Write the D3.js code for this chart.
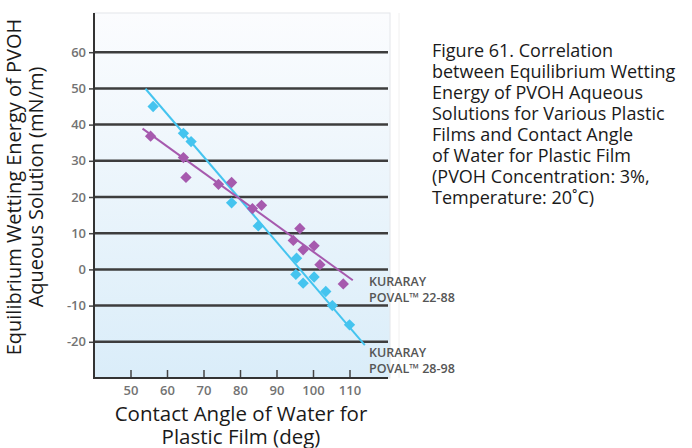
<!DOCTYPE html>
<html>
<head>
<meta charset="utf-8">
<script src="https://cdn.jsdelivr.net/npm/d3@7"></script>
<style>
  html, body { margin: 0; padding: 0; background: #fff; }
  svg { display: block; }
  text { font-family: "Open Sans", "DejaVu Sans", sans-serif; }
</style>
</head>
<body>
<svg id="chart" width="692" height="448"></svg>
<script>
// Contact angle of water (deg) vs. equilibrium wetting energy (mN/m)
const xTicks = [50, 60, 70, 80, 90, 100, 110];
const yTicks = [60, 50, 40, 30, 20, 10, 0, -10, -20];

// KURARAY POVAL 28-98
const angle2898 = [56.2, 64.5, 66.6, 77.7, 85.0, 95.5, 95.3, 97.3, 100.3, 103.5, 105.3, 110.0];
const energy2898 = [45.0, 37.6, 35.3, 18.4, 12.0, 3.1, -1.4, -3.8, -2.1, -6.1, -10.0, -15.3];
// fitted line end points (angle, energy)
const fitAngle2898 = [54.1, 114.2];
const fitEnergy2898 = [49.9, -20.9];

// KURARAY POVAL 22-88
const angle2288 = [55.5, 64.5, 65.2, 74.1, 77.7, 83.4, 85.9, 96.4, 94.6, 97.3, 100.3, 101.9, 108.3];
const energy2288 = [36.8, 30.9, 25.4, 23.5, 24.0, 16.8, 17.7, 11.3, 8.0, 5.4, 6.5, 1.3, -4.0];
const fitAngle2288 = [53.3, 110.9];
const fitEnergy2288 = [38.9, -3.0];

const seriesNames = [["KURARAY", "POVAL\u2122 22-88"], ["KURARAY", "POVAL\u2122 28-98"]];
const yTitle = ["Equilibrium Wetting Energy of PVOH", "Aqueous Solution (mN/m)"];
const xTitle = ["Contact Angle of Water for", "Plastic Film (deg)"];
const caption = [
  "Figure 61. Correlation",
  "between Equilibrium Wetting",
  "Energy of PVOH Aqueous",
  "Solutions for Various Plastic",
  "Films and Contact Angle",
  "of Water for Plastic Film",
  "(PVOH Concentration: 3%,",
  "Temperature: 20\u02DAC)"
];

const svg = d3.select("#chart");
const plotL = 94, plotR = 388, plotT = 13, plotB = 378;

const x = d3.scaleLinear().domain([40, 120]).range([94, 386]);
const y = d3.scaleLinear().domain([-30, 70]).range([plotB, 16]);

// plot background with a soft vertical gradient
const defs = svg.append("defs");
const grad = defs.append("linearGradient").attr("id", "bg").attr("x1", 0).attr("y1", 0).attr("x2", 0).attr("y2", 1);
grad.append("stop").attr("offset", "0%").attr("stop-color", "#fbfcfe");
grad.append("stop").attr("offset", "100%").attr("stop-color", "#daedf9");

svg.append("rect")
  .attr("x", plotL).attr("y", plotT)
  .attr("width", plotR - plotL + 2).attr("height", plotB - plotT)
  .attr("fill", "url(#bg)")
  .attr("stroke", "#e4e6ea").attr("stroke-width", 1);

// faint separator line right of the plot
svg.append("line")
  .attr("x1", 399).attr("x2", 399).attr("y1", plotT).attr("y2", plotB)
  .attr("stroke", "#f0f0f0").attr("stroke-width", 1);

// horizontal grid lines
svg.append("g").selectAll("line").data(yTicks).join("line")
  .attr("x1", plotL).attr("x2", plotR)
  .attr("y1", d => y(d)).attr("y2", d => y(d))
  .attr("stroke", "#3d3d3d").attr("stroke-width", 2.5);

// y axis (outer ticks, grey labels, plain hyphen for negatives)
const yAxis = svg.append("g")
  .attr("transform", `translate(${plotL},0)`)
  .call(d3.axisLeft(y).tickValues(yTicks).tickFormat(d => String(d)).tickSize(5).tickPadding(3));
yAxis.select(".domain").remove();
yAxis.selectAll(".tick line").attr("stroke", "#444").attr("stroke-width", 1.5);
yAxis.selectAll(".tick text")
  .attr("fill", "#737373").attr("font-size", 13).attr("font-weight", 600)
  .attr("font-family", "'Open Sans', sans-serif");

// x axis (inner ticks pointing up)
const xAxis = svg.append("g")
  .attr("transform", `translate(0,${plotB})`)
  .call(d3.axisBottom(x).tickValues(xTicks).tickFormat(d => String(d)).tickSize(-8).tickPadding(8));
xAxis.select(".domain").remove();
xAxis.selectAll(".tick line").attr("stroke", "#444").attr("stroke-width", 1.5);
xAxis.selectAll(".tick text")
  .attr("fill", "#737373").attr("font-size", 13).attr("font-weight", 600)
  .attr("font-family", "'Open Sans', sans-serif");

// axis lines
svg.append("line").attr("x1", plotL).attr("x2", plotL).attr("y1", plotT).attr("y2", plotB + 1)
  .attr("stroke", "#333").attr("stroke-width", 2);
svg.append("line").attr("x1", plotL).attr("x2", plotR).attr("y1", plotB).attr("y2", plotB)
  .attr("stroke", "#333").attr("stroke-width", 2);

const series = [
  { ax: angle2898, en: energy2898, fa: fitAngle2898, fe: fitEnergy2898, color: "#45c4ef" },
  { ax: angle2288, en: energy2288, fa: fitAngle2288, fe: fitEnergy2288, color: "#a65aae" }
];

const line = d3.line().x(d => x(d[0])).y(d => y(d[1]));
const marker = d3.symbol().type(d3.symbolSquare).size(64);

series.forEach(s => {
  svg.append("path")
    .datum(d3.zip(s.fa, s.fe))
    .attr("d", line)
    .attr("fill", "none").attr("stroke", s.color).attr("stroke-width", 2);
});
series.forEach(s => {
  svg.append("g").selectAll("path").data(d3.zip(s.ax, s.en)).join("path")
    .attr("d", marker)
    .attr("transform", d => `translate(${x(d[0])},${y(d[1])}) rotate(45)`)
    .attr("fill", s.color);
});

// series labels
const labelPos = [[369, 286], [369, 357]];
seriesNames.forEach((lines, i) => {
  const t = svg.append("text")
    .attr("x", labelPos[i][0]).attr("y", labelPos[i][1])
    .attr("fill", "#555").attr("font-size", 12.5).attr("font-weight", 600);
  lines.forEach((ln, j) => {
    t.append("tspan").attr("x", labelPos[i][0]).attr("dy", j === 0 ? 0 : 16).text(ln);
  });
});

// y axis title (two rotated lines)
yTitle.forEach((ln, i) => {
  svg.append("text")
    .attr("transform", `translate(${21 + i * 22},187) rotate(-90)`)
    .attr("text-anchor", "middle")
    .attr("fill", "#1a1a1a").attr("font-size", 20)
    .text(ln);
});

// x axis title
xTitle.forEach((ln, i) => {
  svg.append("text")
    .attr("x", 241).attr("y", 421 + i * 22.5)
    .attr("text-anchor", "middle")
    .attr("fill", "#1a1a1a").attr("font-size", 20.5)
    .text(ln);
});

// caption
const cap = svg.append("text").attr("fill", "#1a1a1a").attr("font-size", 18);
caption.forEach((ln, i) => {
  cap.append("tspan").attr("x", 432).attr("y", 56.5 + i * 21.1).text(ln);
});
</script>
</body>
</html>
